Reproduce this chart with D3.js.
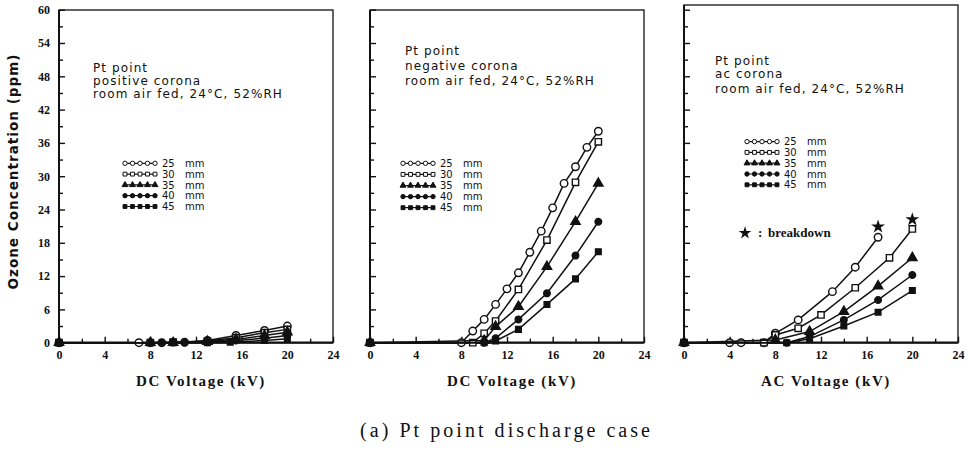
<!DOCTYPE html>
<html>
<head>
<meta charset="utf-8">
<script src="https://cdn.jsdelivr.net/npm/d3@7"></script>
<style>
  body { margin: 0; background: #fff; }
</style>
</head>
<body>
<div id="chart"></div>
<script>
// gap distances (mm) used in every panel
const gapLabels = ["25", "30", "35", "40", "45"];
const xMajorTicks = [0, 4, 8, 12, 16, 20, 24];
const xMinorTicks = [2, 6, 10, 14, 18, 22];
const yMajorTicks = [0, 6, 12, 18, 24, 30, 36, 42, 48, 54, 60];
const yMinorTicks = [3, 9, 15, 21, 27, 33, 39, 45, 51, 57];

// positive corona, DC [kV, ppm]
const pos25 = [[0, 0], [7, 0], [8, 0], [9, 0], [10, 0.1], [11, 0.1], [13, 0.4], [15.5, 1.3], [18, 2.2], [20, 3.0]];
const pos30 = [[0, 0], [8, 0], [10, 0.1], [13, 0.3], [15.5, 0.9], [18, 1.8], [20, 2.4]];
const pos35 = [[0, 0], [8, 0], [10, 0], [13, 0.2], [15.5, 0.6], [18, 1.3], [20, 1.9]];
const pos40 = [[0, 0], [9, 0], [11, 0], [13, 0.1], [15.5, 0.4], [18, 0.8], [20, 1.3]];
const pos45 = [[0, 0], [10, 0], [13, 0], [15, 0.1], [18, 0.4], [20, 0.7]];

// negative corona, DC
const neg25 = [[0, 0], [8, 0], [9, 2.1], [10, 4.2], [11, 6.9], [12, 9.7], [13, 12.6], [14, 16.3], [15, 20.1], [16, 24.3], [17, 28.7], [18, 31.7], [19, 35.2], [20, 38.1]];
const neg30 = [[0, 0], [9, 0], [10, 1.7], [11, 3.9], [13, 9.6], [15.5, 18.5], [18, 28.9], [20, 36.2]];
const neg35 = [[0, 0], [10, 0.4], [11, 2.9], [13, 6.5], [15.5, 13.7], [18, 21.8], [20, 28.7]];
const neg40 = [[0, 0], [10, 0], [11, 0.8], [13, 4.2], [15.5, 8.9], [18, 15.7], [20, 21.8]];
const neg45 = [[0, 0], [10, 0], [11, 0.3], [13, 2.4], [15.5, 6.9], [18, 11.5], [20, 16.4]];

// ac corona
const ac25 = [[0, 0], [4, 0], [5, 0], [7, 0], [8, 1.7], [10, 4.1], [13, 9.2], [15, 13.6], [17, 19.0]];
const ac30 = [[0, 0], [7, 0], [8, 1.4], [10, 2.6], [12, 5.0], [15, 9.9], [18, 15.3], [20, 20.5]];
const ac35 = [[0, 0], [8, 0.5], [11, 2.0], [14, 5.6], [17, 10.2], [20, 15.3]];
const ac40 = [[0, 0], [9, 0], [11, 1.1], [14, 4.1], [17, 7.7], [20, 12.2]];
const ac45 = [[0, 0], [9, 0], [11, 0.7], [14, 3.0], [17, 5.5], [20, 9.4]];
const acBreakdown = [[17, 20.9], [20, 22.2]];

const W = 968, H = 451;
const PW = 274;
const INK = "#111";
const SERIF = "'Liberation Serif', 'DejaVu Serif', serif";
const SANS = "'DejaVu Sans', sans-serif";

const panels = [
    { left: 59, frameTop: 10, yLabels: true, xTitle: "DC Voltage (kV)",
      notes: ["Pt point", "positive corona", "room air fed, 24°C, 52%RH"], noteX: 34, noteY: [72, 85, 98],
      legendX: 64, legendY: 163.3, legendStep: 10.8,
      series: [pos25, pos30, pos35, pos40, pos45] },
    { left: 370, frameTop: 10, yLabels: false, xTitle: "DC Voltage (kV)",
      notes: ["Pt point", "negative corona", "room air fed, 24°C, 52%RH"], noteX: 35, noteY: [55, 70, 85],
      legendX: 31, legendY: 163.3, legendStep: 11.1,
      series: [neg25, neg30, neg35, neg40, neg45] },
    { left: 684, frameTop: 5, yLabels: false, xTitle: "AC Voltage (kV)",
      notes: ["Pt point", "ac corona", "room air fed, 24°C, 52%RH"], noteX: 31, noteY: [65, 78, 93],
      legendX: 61, legendY: 141.6, legendStep: 10.8,
      series: [ac25, ac30, ac35, ac40, ac45], breakdown: acBreakdown }
];

const shapes = [
    { type: d3.symbolCircle, fill: "#fff", size: 44 },
    { type: d3.symbolSquare, fill: "#fff", size: 40 },
    { type: d3.symbolTriangle, fill: INK, size: 38 },
    { type: d3.symbolCircle, fill: INK, size: 34 },
    { type: d3.symbolSquare, fill: INK, size: 32 }
];

const svg = d3.select("#chart")
    .append("svg")
    .attr("width", W)
    .attr("height", H);

const y = d3.scaleLinear().domain([0, 60]).range([342.7, 9.7]);

function styleTicks(sel) {
    sel.select(".domain").remove();
    sel.selectAll(".tick line").attr("stroke", INK).attr("stroke-width", 1.4);
    sel.selectAll(".tick text")
        .attr("fill", INK)
        .style("font-family", SERIF)
        .style("font-weight", "bold")
        .style("font-size", "12px");
}

panels.forEach(p => {
    const x = d3.scaleLinear().domain([0, 24]).range([p.left, p.left + PW]);
    const g = svg.append("g");

    // frame
    g.append("rect")
        .attr("x", p.left)
        .attr("y", p.frameTop)
        .attr("width", PW)
        .attr("height", y(0) - p.frameTop)
        .attr("fill", "none")
        .attr("stroke", INK)
        .attr("stroke-width", 1.3);

    // x ticks (inward)
    g.append("g")
        .attr("transform", `translate(0,${y(0)})`)
        .call(d3.axisBottom(x).tickValues(xMinorTicks).tickSize(-4).tickFormat(""))
        .call(styleTicks);
    g.append("g")
        .attr("transform", `translate(0,${y(0)})`)
        .call(d3.axisBottom(x).tickValues(xMajorTicks).tickSize(-6).tickPadding(8).tickFormat(d3.format("d")))
        .call(styleTicks);

    // y ticks (inward)
    g.append("g")
        .attr("transform", `translate(${p.left},0)`)
        .call(d3.axisLeft(y).tickValues(yMinorTicks).tickSize(-4).tickFormat(""))
        .call(styleTicks);
    g.append("g")
        .attr("transform", `translate(${p.left},0)`)
        .call(d3.axisLeft(y).tickValues(yMajorTicks).tickSize(-6).tickPadding(9)
            .tickFormat(p.yLabels ? d3.format("d") : ""))
        .call(styleTicks);

    // heavier left and bottom axis lines
    g.append("line")
        .attr("x1", p.left).attr("x2", p.left + PW)
        .attr("y1", y(0)).attr("y2", y(0))
        .attr("stroke", INK).attr("stroke-width", 2.2);
    g.append("line")
        .attr("x1", p.left).attr("x2", p.left)
        .attr("y1", p.frameTop).attr("y2", y(0))
        .attr("stroke", INK).attr("stroke-width", 2);

    // x title
    g.append("text")
        .attr("x", p.left + PW / 2 + 5)
        .attr("y", 386)
        .attr("text-anchor", "middle")
        .attr("fill", INK)
        .style("font-family", SERIF)
        .style("font-weight", "bold")
        .style("font-size", "15px")
        .style("letter-spacing", "1.6px")
        .text(p.xTitle);

    // annotation
    g.selectAll("text.note")
        .data(p.notes)
        .enter()
        .append("text")
        .attr("class", "note")
        .attr("x", p.left + p.noteX)
        .attr("y", (d, i) => p.noteY[i])
        .attr("fill", INK)
        .style("font-family", SANS)
        .style("font-size", "12px")
        .style("letter-spacing", "1.1px")
        .text(d => d);

    // series lines + markers
    const line = d3.line().x(d => x(d[0])).y(d => y(d[1]));
    p.series.forEach((data, si) => {
        const s = shapes[si];
        g.append("path")
            .datum(data)
            .attr("d", line)
            .attr("fill", "none")
            .attr("stroke", INK)
            .attr("stroke-width", 1.5);
        g.selectAll(null)
            .data(data)
            .enter()
            .append("path")
            .attr("transform", d => `translate(${x(d[0])},${y(d[1])})`)
            .attr("d", d3.symbol().type(s.type).size(s.size))
            .attr("fill", s.fill)
            .attr("stroke", INK)
            .attr("stroke-width", 1.4);
    });

    if (p.breakdown) {
        g.selectAll(null)
            .data(p.breakdown)
            .enter()
            .append("path")
            .attr("transform", d => `translate(${x(d[0])},${y(d[1])})`)
            .attr("d", d3.symbol().type(d3.symbolStar).size(60))
            .attr("fill", INK);
        g.append("path")
            .attr("transform", `translate(${p.left + 61},233)`)
            .attr("d", d3.symbol().type(d3.symbolStar).size(50))
            .attr("fill", INK);
        g.append("text")
            .attr("x", p.left + 74)
            .attr("y", 237)
            .attr("fill", INK)
            .style("font-family", SERIF)
            .style("font-weight", "bold")
            .style("font-size", "13px")
            .text(":");
        g.append("text")
            .attr("x", p.left + 84)
            .attr("y", 237)
            .attr("fill", INK)
            .style("font-family", SERIF)
            .style("font-weight", "bold")
            .style("font-size", "13px")
            .text("breakdown");
    }

    // legend
    const lg = g.append("g").attr("transform", `translate(${p.left + p.legendX},${p.legendY})`);
    gapLabels.forEach((lab, i) => {
        const s = shapes[i];
        const row = lg.append("g").attr("transform", `translate(0,${i * p.legendStep})`);
        row.append("line")
            .attr("x1", 0).attr("x2", 34)
            .attr("stroke", INK).attr("stroke-width", 1.2);
        row.selectAll(null)
            .data([0, 1, 2, 3, 4])
            .enter()
            .append("path")
            .attr("transform", k => `translate(${2 + k * 7.5},0)`)
            .attr("d", d3.symbol().type(s.type).size(15))
            .attr("fill", s.fill)
            .attr("stroke", INK)
            .attr("stroke-width", 1);
        row.append("text")
            .attr("x", 39)
            .attr("dy", "0.36em")
            .attr("fill", INK)
            .style("font-family", SANS)
            .style("font-size", "10px")
            .text(lab);
        row.append("text")
            .attr("x", 62)
            .attr("dy", "0.36em")
            .attr("fill", INK)
            .style("font-family", SANS)
            .style("font-size", "10px")
            .text("mm");
    });
});

// shared y title
svg.append("text")
    .attr("transform", "translate(18,172) rotate(-90)")
    .attr("text-anchor", "middle")
    .attr("fill", INK)
    .attr("textLength", 235)
    .attr("lengthAdjust", "spacing")
    .style("font-family", SANS)
    .style("font-weight", "bold")
    .style("font-size", "13.5px")
    .text("Ozone Concentration (ppm)");

// caption
svg.append("text")
    .attr("x", 505)
    .attr("y", 437)
    .attr("text-anchor", "middle")
    .attr("fill", INK)
    .attr("textLength", 290)
    .attr("lengthAdjust", "spacing")
    .style("font-family", SERIF)
    .style("font-size", "20px")
    .text("(a) Pt point discharge case");
</script>
</body>
</html>
